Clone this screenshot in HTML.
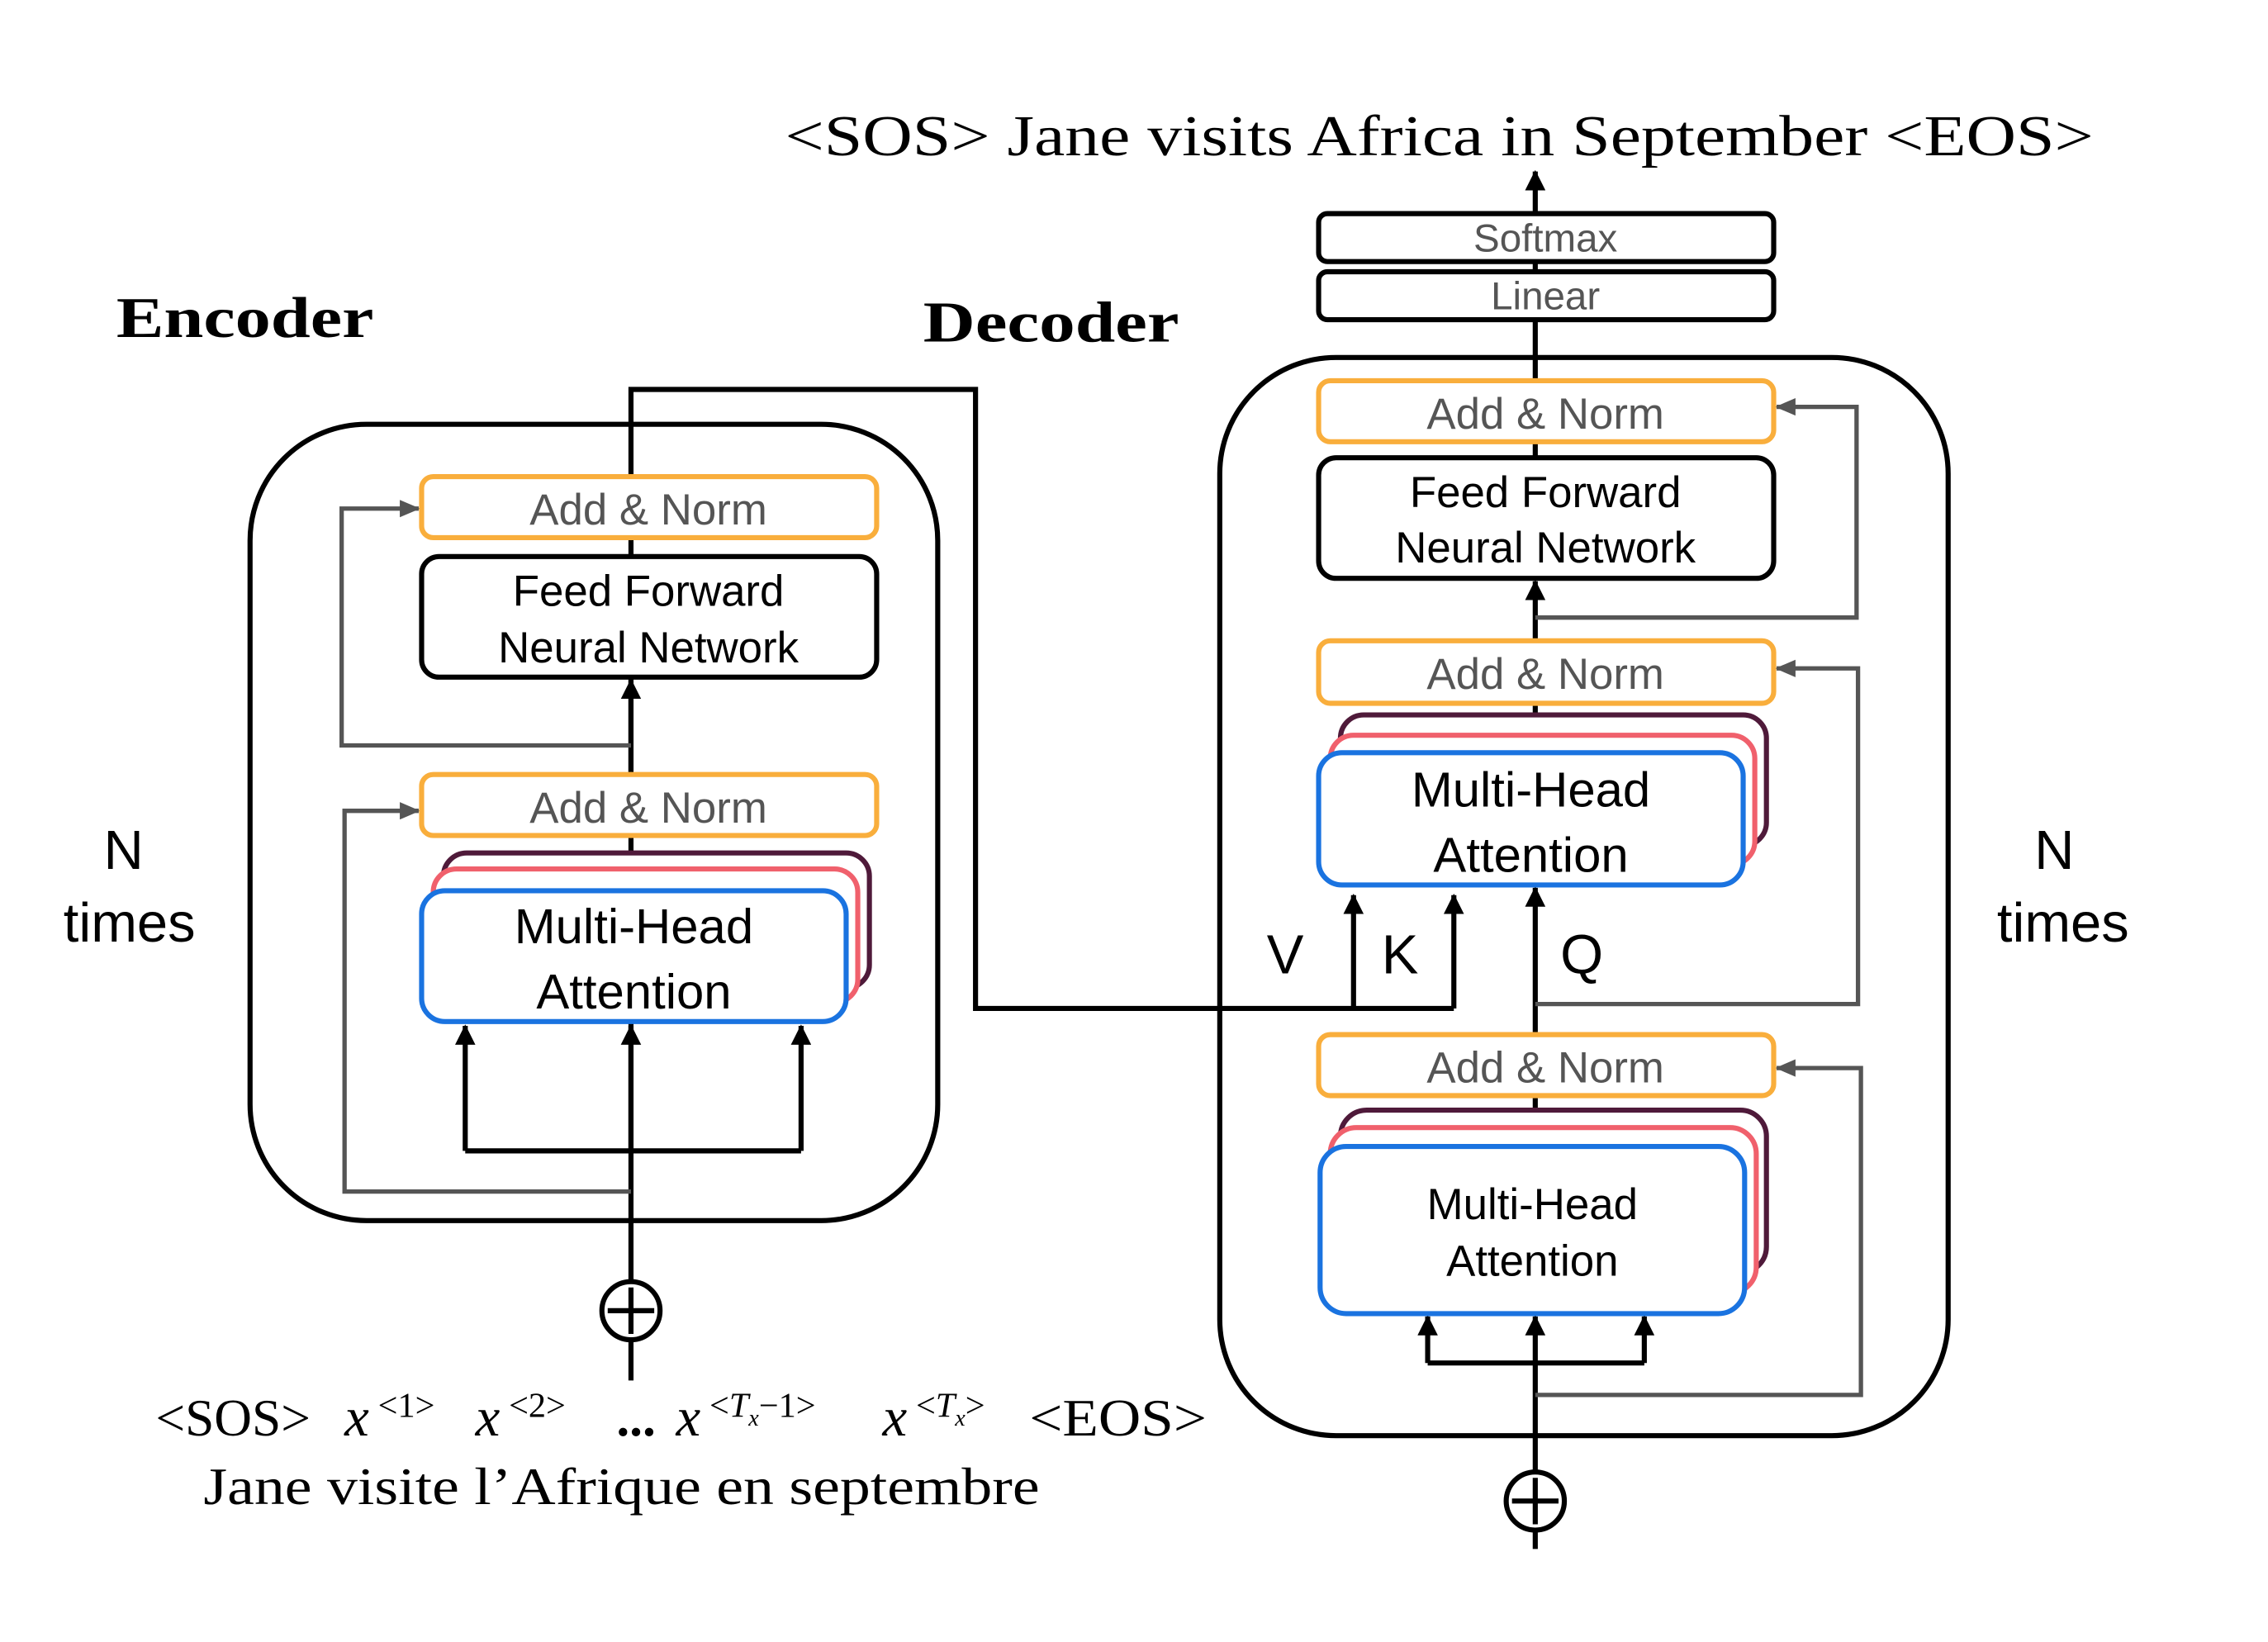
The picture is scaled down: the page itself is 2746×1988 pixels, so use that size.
<!DOCTYPE html>
<html><head><meta charset="utf-8"><style>html,body{margin:0;padding:0;background:#fff}svg{display:block}</style></head><body>
<svg width="2746" height="1988" viewBox="0 0 1560 1130" preserveAspectRatio="none" xmlns="http://www.w3.org/2000/svg">
<defs>
<marker id="a" markerWidth="14" markerHeight="14" refX="13" refY="7" orient="auto" markerUnits="userSpaceOnUse"><path d="M0,0 L14,7 L0,14 z" fill="#000"/></marker>
<marker id="g" markerWidth="14" markerHeight="12" refX="13" refY="6" orient="auto" markerUnits="userSpaceOnUse"><path d="M0,0 L14,6 L0,12 z" fill="#555"/></marker>
</defs>
<g font-family="Liberation Serif, serif">
<text x="80" y="232" font-size="40" font-weight="bold" textLength="177" lengthAdjust="spacingAndGlyphs">Encoder</text>
<text x="635" y="235" font-size="40" font-weight="bold" textLength="176" lengthAdjust="spacingAndGlyphs">Decoder</text>
<text x="540" y="107" font-size="40" textLength="900" lengthAdjust="spacingAndGlyphs">&lt;SOS&gt; Jane visits Africa in September &lt;EOS&gt;</text>
<text x="107" y="988" font-size="36">&lt;SOS&gt;</text>
<text x="237" y="988" font-size="38" font-style="italic">x</text><text x="260" y="975" font-size="24">&lt;1&gt;</text>
<text x="327" y="988" font-size="38" font-style="italic">x</text><text x="350" y="975" font-size="24">&lt;2&gt;</text>
<text x="424" y="988" font-size="36" font-weight="bold">...</text>
<text x="465" y="988" font-size="38" font-style="italic">x</text><text x="488" y="975" font-size="24">&lt;<tspan font-style="italic">T</tspan><tspan font-size="16" font-style="italic" dy="6">x</tspan><tspan dy="-6">−1&gt;</tspan></text>
<text x="607" y="988" font-size="38" font-style="italic">x</text><text x="630" y="975" font-size="24">&lt;<tspan font-style="italic">T</tspan><tspan font-size="16" font-style="italic" dy="6">x</tspan><tspan dy="-6">&gt;</tspan></text>
<text x="708" y="988" font-size="36" textLength="122" lengthAdjust="spacingAndGlyphs">&lt;EOS&gt;</text>
<text x="140" y="1035" font-size="36" textLength="575" lengthAdjust="spacingAndGlyphs">Jane visite l’Afrique en septembre</text>
</g>
<g font-family="Liberation Sans, sans-serif" font-size="38" text-anchor="middle">
<text x="85" y="598">N</text><text x="89" y="648">times</text>
<text x="1413" y="598">N</text><text x="1419" y="648">times</text>
<text x="884" y="670">V</text><text x="963" y="670">K</text><text x="1088" y="670">Q</text>
</g>
<rect x="172" y="292" width="473" height="548" rx="80" fill="none" stroke="#000" stroke-width="3.5"/>
<rect x="839" y="246" width="501" height="742" rx="80" fill="none" stroke="#000" stroke-width="3.5"/>
<g stroke="#000" stroke-width="3.5" fill="none">
<path d="M434,950 V268 H671 V694 H1000"/>
<path d="M931,694 V616" marker-end="url(#a)"/>
<path d="M1000,694 V616" marker-end="url(#a)"/>
<path d="M320,792 H551"/>
<path d="M320,792 V706" marker-end="url(#a)"/>
<path d="M551,792 V706" marker-end="url(#a)"/>
<path d="M434,792 V706" marker-end="url(#a)"/>
<path d="M434,533 V468" marker-end="url(#a)"/>
<path d="M1056,1066 V906" marker-end="url(#a)"/>
<path d="M982,938 H1131"/>
<path d="M982,938 V906" marker-end="url(#a)"/>
<path d="M1131,938 V906" marker-end="url(#a)"/>
<path d="M1056,712 V611" marker-end="url(#a)"/>
<path d="M1056,441 V400" marker-end="url(#a)"/>
<path d="M1056,262 V118" marker-end="url(#a)"/>
<path d="M1056,484 V500"/><path d="M1056,754 V770"/><path d="M1056,304 V316"/>
</g>
<g stroke="#555" stroke-width="3" fill="none">
<path d="M434,820 H237 V558 H288" marker-end="url(#g)"/>
<path d="M434,513 H235 V350 H288" marker-end="url(#g)"/>
<path d="M1056,960 H1280 V735 H1222" marker-end="url(#g)"/>
<path d="M1056,691 H1278 V460 H1222" marker-end="url(#g)"/>
<path d="M1056,425 H1277 V280 H1222" marker-end="url(#g)"/>
</g>
<g stroke="#000" stroke-width="3.5" fill="#fff">
<circle cx="434" cy="902" r="20"/><circle cx="1056" cy="1033" r="20"/>
</g>
<g stroke="#000" stroke-width="3.5"><path d="M434,886 V918 M418,902 H450 M1056,1017 V1049 M1040,1033 H1072"/></g>
<g fill="#fff" stroke-width="3.5">
<rect x="290" y="328" width="313" height="42" rx="8" stroke="#F9AE3C"/>
<rect x="290" y="383" width="313" height="83" rx="12" stroke="#000"/>
<rect x="290" y="533" width="313" height="42" rx="8" stroke="#F9AE3C"/>
<rect x="305" y="587" width="293" height="93" rx="16" stroke="#4f1a3a"/>
<rect x="298" y="598" width="292" height="92" rx="16" stroke="#f0606c"/>
<rect x="290" y="613" width="292" height="90" rx="16" stroke="#1a73e0"/>
<rect x="907" y="147" width="313" height="33" rx="6" stroke="#000"/>
<rect x="907" y="187" width="313" height="33" rx="6" stroke="#000"/>
<rect x="907" y="262" width="313" height="42" rx="8" stroke="#F9AE3C"/>
<rect x="907" y="315" width="313" height="83" rx="12" stroke="#000"/>
<rect x="907" y="441" width="313" height="43" rx="8" stroke="#F9AE3C"/>
<rect x="922" y="492" width="293" height="90" rx="16" stroke="#4f1a3a"/>
<rect x="915" y="506" width="292" height="89" rx="16" stroke="#f0606c"/>
<rect x="907" y="518" width="292" height="91" rx="16" stroke="#1a73e0"/>
<rect x="907" y="712" width="313" height="42" rx="8" stroke="#F9AE3C"/>
<rect x="922" y="764" width="293" height="112" rx="18" stroke="#4f1a3a"/>
<rect x="915" y="776" width="293" height="114" rx="18" stroke="#f0606c"/>
<rect x="908" y="789" width="292" height="115" rx="18" stroke="#1a73e0"/>
</g>
<g font-family="Liberation Sans, sans-serif" text-anchor="middle">
<g fill="#555" font-size="30">
<text x="446" y="361">Add &amp; Norm</text>
<text x="446" y="566">Add &amp; Norm</text>
<text x="1063" y="295">Add &amp; Norm</text>
<text x="1063" y="474">Add &amp; Norm</text>
<text x="1063" y="745">Add &amp; Norm</text>
<text x="1063" y="173" font-size="27">Softmax</text>
<text x="1063" y="213" font-size="27">Linear</text>
</g>
<g fill="#000" font-size="30">
<text x="446" y="417">Feed Forward</text><text x="446" y="456">Neural Network</text>
<text x="1063" y="349">Feed Forward</text><text x="1063" y="387">Neural Network</text>
</g>
<g fill="#000" font-size="34">
<text x="436" y="649">Multi-Head</text><text x="436" y="694">Attention</text>
<text x="1053" y="555">Multi-Head</text><text x="1053" y="600">Attention</text>
</g>
<g fill="#000" font-size="30">
<text x="1054" y="839">Multi-Head</text><text x="1054" y="878">Attention</text>
</g>
</g>
</svg>
</body></html>
